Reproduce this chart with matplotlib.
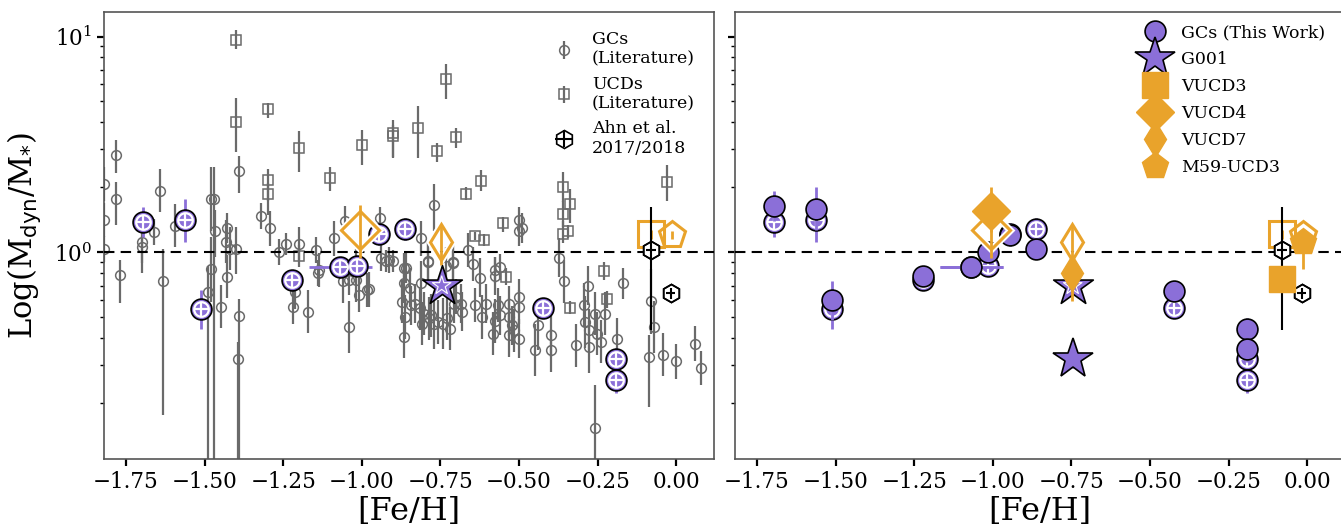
import numpy as np
import matplotlib.pyplot as plt
from matplotlib.lines import Line2D
from matplotlib.ticker import MultipleLocator, NullFormatter

plt.rcParams['font.family'] = ['DejaVu Serif']
plt.rcParams['mathtext.fontset'] = 'dejavusans'

# ---- literature GCs: [Fe/H], Mdyn/M*, lower / upper error in dex
lit_gc_feh = [-1.82, -1.82, -1.82, -1.781, -1.781, -1.770, -1.700, -1.700, -1.660, -1.642,
              -1.632, -1.594, -1.481, -1.469, -1.466, -1.481, -1.488, -1.449, -1.430, -1.433,
              -1.430, -1.420, -1.401, -1.390, -1.390, -1.393, -1.320, -1.291, -1.262, -1.240,
              -1.200, -1.218, -1.211, -1.171, -1.145, -1.137, -1.140, -1.089, -1.054, -1.042,
              -1.042, -1.060, -1.020, -1.017, -1.010, -0.984, -0.977, -0.943, -0.940, -0.922,
              -0.901, -0.914, -0.867, -0.860, -0.867, -0.848, -0.873, -0.864, -0.867, -0.845,
              -0.830, -0.816, -0.801, -0.787, -0.772, -0.757, -0.808, -0.779, -0.743, -0.728,
              -0.721, -0.699, -0.706, -0.684, -0.680, -0.640, -0.618, -0.604, -0.582, -0.567,
              -0.560, -0.575, -0.560, -0.531, -0.531, -0.523, -0.531, -0.501, -0.501, -0.501,
              -0.516, -0.501, -0.490, -0.501, -0.450, -0.439, -0.399, -0.399, -0.373, -0.358,
              -0.319, -0.282, -0.294, -0.289, -0.279, -0.279, -0.260, -0.253, -0.260, -0.238,
              -0.227, -0.187, -0.170, -0.088, -0.081, -0.070, -0.041, 0.000, 0.061, 0.079,
              -0.772, -0.811, -0.789, -0.709, -0.662, -0.811, -0.790, -0.731, -0.710, -0.646,
              -0.625, -0.577, -0.577]
lit_gc_ratio = [2.07, 1.41, 1.04, 2.81, 1.765, 0.784, 1.06, 1.12, 1.24, 1.93,
                0.735, 1.33, 1.765, 1.765, 1.25, 0.833, 0.656, 0.558, 1.29, 1.12,
                0.770, 1.04, 1.04, 2.37, 0.505, 0.320, 1.47, 1.29, 1.007, 1.09,
                1.09, 0.558, 0.656, 0.529, 1.025, 0.827, 0.80, 1.16, 1.40, 0.451,
                0.743, 0.736, 0.905, 0.741, 0.633, 0.667, 0.673, 1.44, 0.938, 0.911,
                0.911, 0.921, 0.842, 0.842, 0.717, 0.685, 0.589, 0.501, 0.405, 0.568,
                0.578, 0.549, 0.520, 0.493, 0.467, 0.475, 0.467, 0.511, 0.467, 0.493,
                0.443, 0.622, 0.578, 0.578, 0.529, 0.569, 0.501, 0.578, 0.420, 0.569,
                0.511, 0.827, 0.857, 0.578, 0.501, 0.459, 0.412, 0.397, 0.622, 0.558,
                0.434, 1.41, 1.29, 1.25, 0.351, 0.462, 0.412, 0.351, 0.944, 0.735,
                0.370, 0.700, 0.569, 0.476, 0.434, 0.364, 0.520, 0.420, 0.153, 0.384,
                0.520, 0.395, 0.717, 0.327, 0.593, 0.451, 0.335, 0.312, 0.377, 0.290,
                1.65, 1.16, 0.905, 0.905, 1.025, 0.722, 0.911, 0.863, 0.895, 0.880,
                0.762, 0.776, 0.480]
lit_gc_elo = [0.08, 0.08, 0.06, 0.08, 0.12, 0.13, 0.12, 0.10, 0.06, 0.10,
              0.62, 0.10, 0.15, 1.30, 0.12, 0.15, 1.00, 0.10, 0.07, 0.10,
              0.10, 0.10, 0.12, 0.10, 0.80, 0.50, 0.06, 0.08, 0.06, 0.05,
              0.08, 0.08, 0.08, 0.10, 0.06, 0.08, 0.06, 0.08, 0.07, 0.12,
              0.07, 0.10, 0.06, 0.10, 0.08, 0.08, 0.08, 0.05, 0.06, 0.05,
              0.05, 0.06, 0.07, 0.07, 0.09, 0.09, 0.10, 0.10, 0.10, 0.09,
              0.09, 0.10, 0.10, 0.10, 0.12, 0.10, 0.10, 0.10, 0.12, 0.10,
              0.10, 0.08, 0.09, 0.09, 0.09, 0.08, 0.10, 0.09, 0.10, 0.08,
              0.09, 0.06, 0.06, 0.08, 0.09, 0.09, 0.10, 0.09, 0.08, 0.08,
              0.10, 0.06, 0.07, 0.07, 0.12, 0.12, 0.10, 0.10, 0.09, 0.10,
              0.10, 0.09, 0.10, 0.12, 0.10, 0.12, 0.10, 0.10, 0.20, 0.10,
              0.10, 0.10, 0.07, 0.23, 0.15, 0.12, 0.10, 0.08, 0.08, 0.08,
              0.12, 0.08, 0.09, 0.09, 0.08, 0.10, 0.09, 0.09, 0.09, 0.08,
              0.09, 0.09, 0.10]
lit_gc_ehi = [0.08, 0.08, 0.06, 0.07, 0.08, 0.07, 0.05, 0.10, 0.06, 0.10,
              0.15, 0.10, 0.15, 0.15, 0.10, 0.15, 0.12, 0.10, 0.07, 0.10,
              0.10, 0.10, 0.10, 0.07, 0.08, 0.08, 0.06, 0.08, 0.06, 0.05,
              0.08, 0.08, 0.08, 0.10, 0.06, 0.08, 0.06, 0.08, 0.07, 0.12,
              0.07, 0.10, 0.06, 0.10, 0.08, 0.08, 0.08, 0.05, 0.06, 0.05,
              0.05, 0.06, 0.07, 0.07, 0.09, 0.09, 0.10, 0.10, 0.10, 0.09,
              0.09, 0.10, 0.10, 0.10, 0.12, 0.10, 0.10, 0.10, 0.12, 0.10,
              0.10, 0.08, 0.09, 0.09, 0.09, 0.08, 0.10, 0.09, 0.10, 0.08,
              0.09, 0.06, 0.06, 0.08, 0.09, 0.09, 0.10, 0.09, 0.08, 0.08,
              0.10, 0.06, 0.07, 0.07, 0.12, 0.12, 0.10, 0.10, 0.09, 0.10,
              0.10, 0.09, 0.10, 0.12, 0.10, 0.12, 0.10, 0.10, 0.20, 0.10,
              0.10, 0.10, 0.07, 0.10, 0.15, 0.12, 0.10, 0.08, 0.08, 0.08,
              0.10, 0.08, 0.09, 0.09, 0.08, 0.10, 0.09, 0.09, 0.09, 0.08,
              0.09, 0.09, 0.10]

# ---- literature UCDs
lit_ucd_feh = [-1.40, -1.40, -1.30, -1.20, -1.30, -1.30, -1.101, -1.001, -0.901, -0.901,
               -0.820, -0.731, -0.760, -0.702, -0.670, -0.621, -0.640, -0.611, -0.550, -0.541,
               -0.360, -0.360, -0.360, -0.345, -0.338, -0.338, -0.230, -0.219, -0.029, -1.200]
lit_ucd_ratio = [9.64, 4.03, 4.60, 3.05, 2.17, 1.87, 2.21, 3.13, 3.56, 3.45,
                 3.78, 6.35, 2.94, 3.42, 1.87, 2.15, 1.19, 1.14, 1.365, 0.77,
                 2.00, 1.51, 1.21, 1.25, 1.68, 0.552, 0.818, 0.604, 2.12, 0.96]
lit_ucd_elo = [0.04, 0.14, 0.04, 0.11, 0.10, 0.10, 0.06, 0.09, 0.11, 0.10,
               0.14, 0.09, 0.05, 0.05, 0.03, 0.05, 0.02, 0.03, 0.04, 0.04,
               0.07, 0.06, 0.04, 0.03, 0.09, 0.03, 0.04, 0.04, 0.09, 0.05]
lit_ucd_ehi = [0.045, 0.11, 0.03, 0.08, 0.05, 0.05, 0.05, 0.07, 0.06, 0.05,
               0.10, 0.07, 0.04, 0.04, 0.03, 0.05, 0.02, 0.03, 0.03, 0.04,
               0.07, 0.06, 0.06, 0.03, 0.07, 0.03, 0.04, 0.04, 0.08, 0.05]

# ---- Ahn et al. 2017/2018
ahn_feh = [-0.080, -0.018]
ahn_ratio = [1.025, 0.644]
ahn_yerr = [0.59, 0.04]
ahn_xerr = [0.015, 0.015]

# ---- GCs (this work): open-style values and alternative (filled) values
tw_feh = [-1.696, -1.561, -1.510, -1.222, -1.069, -1.016, -0.946, -0.864, -0.424, -0.193, -0.193]
tw_ratio = [1.38, 1.405, 0.545, 0.743, 0.851, 0.867, 1.217, 1.280, 0.552, 0.320, 0.256]
tw_err_dex = [0.07, 0.10, 0.09, 0.03, 0.03, 0.04, 0.05, 0.05, 0.04, 0.05, 0.06]
tw_xerr = [0.0, 0.0, 0.0, 0.0, 0.10, 0.0, 0.0, 0.0, 0.0, 0.0, 0.0]
tw_ratio_alt = [1.64, 1.59, 0.600, 0.776, 0.855, 1.000, 1.203, 1.039, 0.661, 0.443, 0.356]

# ---- G001
g001_feh = [-0.746]
g001_ratio = [0.70]
g001_ratio_alt = [0.32]

# ---- UCDs
ucd_names = ['VUCD3', 'VUCD4', 'VUCD7', 'M59-UCD3']
ucd_feh = [-0.080, -1.006, -0.747, -0.015]
ucd_ratio = [1.21, 1.266, 1.12, 1.20]
ucd_ratio_alt = [0.754, 1.555, 0.80, 1.12]
ucd_err_lo = [0.02, 0.13, 0.11, 0.02]
ucd_err_hi = [0.02, 0.115, 0.084, 0.02]
ucd_alt_err_lo = [0.02, 0.10, 0.13, 0.125]
ucd_alt_err_hi = [0.02, 0.11, 0.03, 0.02]
ucd_markers = ['s', 'D', 'd', 'p']
ucd_sizes = [19, 19, 18, 20]

purple = '#8B6FD8'
orange = '#E9A32B'
gray = '#6a6a6a'


def dex_err(vals, lo, hi):
    vals = np.asarray(vals)
    lo = np.asarray(lo)
    hi = np.asarray(hi)
    return [vals * (1 - 10 ** (-lo)), vals * (10 ** hi - 1)]


fig = plt.figure(figsize=(13.41, 5.24), dpi=100)
ax1 = fig.add_axes([104 / 1341, 65 / 524, 610 / 1341, 447 / 524])
ax2 = fig.add_axes([735 / 1341, 65 / 524, 610 / 1341, 447 / 524], sharey=ax1)


def draw_open_tw(ax):
    e = dex_err(tw_ratio, tw_err_dex, tw_err_dex)
    ax.errorbar(tw_feh, tw_ratio, yerr=e, xerr=tw_xerr, fmt='o', ms=15, mfc=purple,
                mec='black', mew=1.2, ecolor=purple, elinewidth=2, zorder=5)
    ax.plot(tw_feh, tw_ratio, ls='none', marker='o', ms=10.5, mfc='none', mec='white',
            mew=1.6, zorder=5.1)
    ax.plot(tw_feh, tw_ratio, ls='none', marker='+', ms=10.5, mec='white', mew=1.6,
            zorder=5.2)
    ax.scatter(g001_feh, g001_ratio, marker='*', s=30 ** 2, c=purple, edgecolors='black',
               linewidths=1.2, zorder=8)
    ax.scatter(g001_feh, g001_ratio, marker='*', s=14 ** 2, facecolors='none',
               edgecolors='white', linewidths=0.8, zorder=8.1)


def draw_open_ucd(ax):
    for i in range(len(ucd_names)):
        e = dex_err([ucd_ratio[i]], [ucd_err_lo[i]], [ucd_err_hi[i]])
        ax.plot(ucd_feh[i], ucd_ratio[i], ls='none', marker=ucd_markers[i], ms=ucd_sizes[i],
                mfc='none', mec='white', mew=5, zorder=6)
        ax.errorbar(ucd_feh[i], ucd_ratio[i], yerr=e, fmt=ucd_markers[i], ms=ucd_sizes[i],
                    mfc='none', mec=orange, mew=2.2, ecolor=orange, elinewidth=2, zorder=6.1)


def draw_ahn(ax):
    ax.plot(ahn_feh, ahn_ratio, ls='none', marker='h', ms=13, mfc='white', mec='black',
            mew=1.2, zorder=7)
    return ax.errorbar(ahn_feh, ahn_ratio, yerr=ahn_yerr, xerr=ahn_xerr, fmt='h', ms=13,
                       mfc='none', mec='black', mew=1.2, ecolor='black', elinewidth=1.5,
                       zorder=7.1, label='Ahn et al.\n2017/2018')


# ---------- left panel
e_gc = dex_err(lit_gc_ratio, lit_gc_elo, lit_gc_ehi)
h_gc = ax1.errorbar(lit_gc_feh, lit_gc_ratio, yerr=e_gc, fmt='o', ms=7, mfc='none', mec=gray,
                    mew=1.1, ecolor=gray, elinewidth=1.6, zorder=2, label='GCs\n(Literature)')
e_ucd = dex_err(lit_ucd_ratio, lit_ucd_elo, lit_ucd_ehi)
h_ucd = ax1.errorbar(lit_ucd_feh, lit_ucd_ratio, yerr=e_ucd, fmt='s', ms=6.5, mfc='none',
                     mec=gray, mew=1.1, ecolor=gray, elinewidth=1.6, zorder=2,
                     label='UCDs\n(Literature)')
draw_open_tw(ax1)
draw_open_ucd(ax1)
h_ahn = draw_ahn(ax1)
ax1.legend(handles=[h_gc, h_ucd, h_ahn], loc='upper right', frameon=False, fontsize=12.5,
           handletextpad=0.6, labelspacing=0.45, borderaxespad=0.7)

# ---------- right panel
draw_open_tw(ax2)
ealt = dex_err(tw_ratio_alt, tw_err_dex, tw_err_dex)
ax2.errorbar(tw_feh, tw_ratio_alt, yerr=ealt, xerr=tw_xerr, fmt='o', ms=15, mfc=purple,
             mec='black', mew=1.2, ecolor=purple, elinewidth=2, zorder=5.3)
ax2.errorbar(g001_feh, g001_ratio_alt, yerr=dex_err(g001_ratio_alt, [0.04], [0.0]),
             fmt='*', ms=30, mfc=purple, mec='black', mew=1.2, ecolor=purple, elinewidth=2,
             zorder=5.3)
for i in range(len(ucd_names)):
    e = dex_err([ucd_ratio_alt[i]], [ucd_alt_err_lo[i]], [ucd_alt_err_hi[i]])
    ax2.errorbar(ucd_feh[i], ucd_ratio_alt[i], yerr=e, fmt=ucd_markers[i], ms=ucd_sizes[i],
                 mfc=orange, mec=orange, mew=1, ecolor=orange, elinewidth=2, zorder=8.5)
draw_open_ucd(ax2)
draw_ahn(ax2)

leg_handles = [Line2D([], [], ls='none', marker='o', ms=15, mfc=purple, mec='black', mew=1.2),
               Line2D([], [], ls='none', marker='*', ms=30, mfc=purple, mec='black', mew=1.2)]
for i in range(len(ucd_names)):
    leg_handles.append(Line2D([], [], ls='none', marker=ucd_markers[i], ms=ucd_sizes[i],
                              mfc=orange, mec=orange))
ax2.legend(leg_handles, ['GCs (This Work)', 'G001'] + ucd_names, loc='upper left',
           bbox_to_anchor=(0.64, 1.0), frameon=False, fontsize=12.5, labelspacing=0.58,
           handletextpad=0.5, borderaxespad=0.3)

for ax in (ax1, ax2):
    ax.axhline(1.0, color='black', ls='--', lw=1.5, dashes=(5, 3), zorder=3)
    ax.set_yscale('log')
    ax.set_ylim(0.11, 13)
    ax.set_xlim(-1.82, 0.12)
    ax.xaxis.set_major_locator(MultipleLocator(0.25))
    ax.yaxis.set_minor_formatter(NullFormatter())
    ax.tick_params(which='major', direction='out', length=5, width=1.6, labelsize=15.5,
                   top=False, right=False)
    ax.tick_params(which='minor', direction='out', length=3, width=1.0, top=False, right=False)
    for sp in ax.spines.values():
        sp.set_color('#555555')
        sp.set_linewidth(1.2)
    ax.set_xlabel('[Fe/H]', fontsize=23, labelpad=2)

ax2.tick_params(axis='y', which='both', labelleft=False)
ax1.set_ylabel(r'Log(M$_{\rm dyn}$/M$_{*}$)', fontsize=22, labelpad=8)

fig.savefig('out.png', dpi=100)
